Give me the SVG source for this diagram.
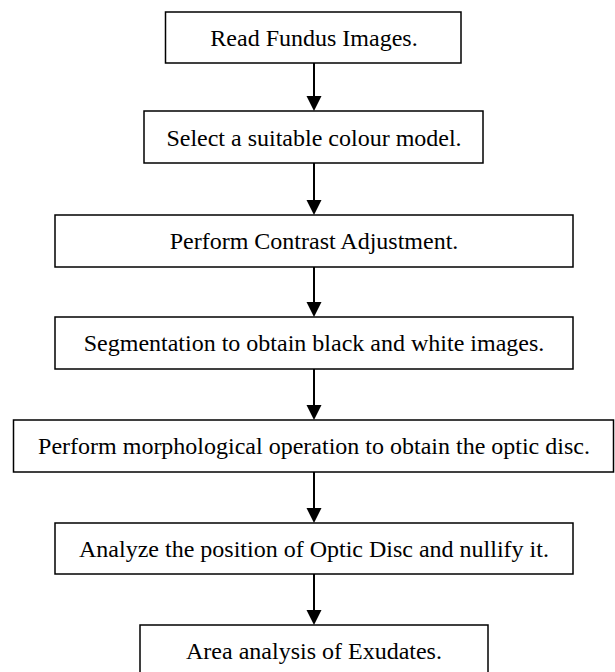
<svg xmlns="http://www.w3.org/2000/svg" width="615" height="672" viewBox="0 0 615 672">
<style>
.box{fill:#fff;stroke:#000;stroke-width:1.5}
.lbl{font-family:"Liberation Serif","Times New Roman",serif;font-size:24px;fill:#000;text-anchor:middle}
.edge{stroke:#000;stroke-width:2;fill:none}
.head{fill:#000}
</style>
<rect width="615" height="672" fill="#fff"/>
<g id="n1"><rect class="box" x="165.5" y="12" width="295.5" height="51"/><text class="lbl" x="314" y="46">Read Fundus Images.</text></g>
<g id="n2"><rect class="box" x="144" y="111" width="339" height="52"/><text class="lbl" x="314" y="146">Select a suitable colour model.</text></g>
<g id="n3"><rect class="box" x="55" y="215" width="518" height="52"/><text class="lbl" x="314" y="249">Perform Contrast Adjustment.</text></g>
<g id="n4"><rect class="box" x="55" y="317" width="518" height="52"/><text class="lbl" x="314" y="351">Segmentation to obtain black and white images.</text></g>
<g id="n5"><rect class="box" x="13.5" y="420" width="600" height="52"/><text class="lbl" x="314" y="454">Perform morphological operation to obtain the optic disc.</text></g>
<g id="n6"><rect class="box" x="55" y="523" width="518" height="51"/><text class="lbl" x="314" y="557">Analyze the position of Optic Disc and nullify it.</text></g>
<g id="n7"><rect class="box" x="140" y="625" width="348" height="52"/><text class="lbl" x="314" y="658.5">Area analysis of Exudates.</text></g>
<g id="connectors">
<line class="edge" x1="314" y1="63" x2="314" y2="97"/><polygon class="head" points="306.5,96 321.5,96 314,111"/>
<line class="edge" x1="314" y1="163" x2="314" y2="201"/><polygon class="head" points="306.5,200 321.5,200 314,215"/>
<line class="edge" x1="314" y1="267" x2="314" y2="303"/><polygon class="head" points="306.5,302 321.5,302 314,317"/>
<line class="edge" x1="314" y1="369" x2="314" y2="406"/><polygon class="head" points="306.5,405 321.5,405 314,420"/>
<line class="edge" x1="314" y1="472" x2="314" y2="509"/><polygon class="head" points="306.5,508 321.5,508 314,523"/>
<line class="edge" x1="314" y1="574" x2="314" y2="611"/><polygon class="head" points="306.5,610 321.5,610 314,625"/>
</g>
</svg>
